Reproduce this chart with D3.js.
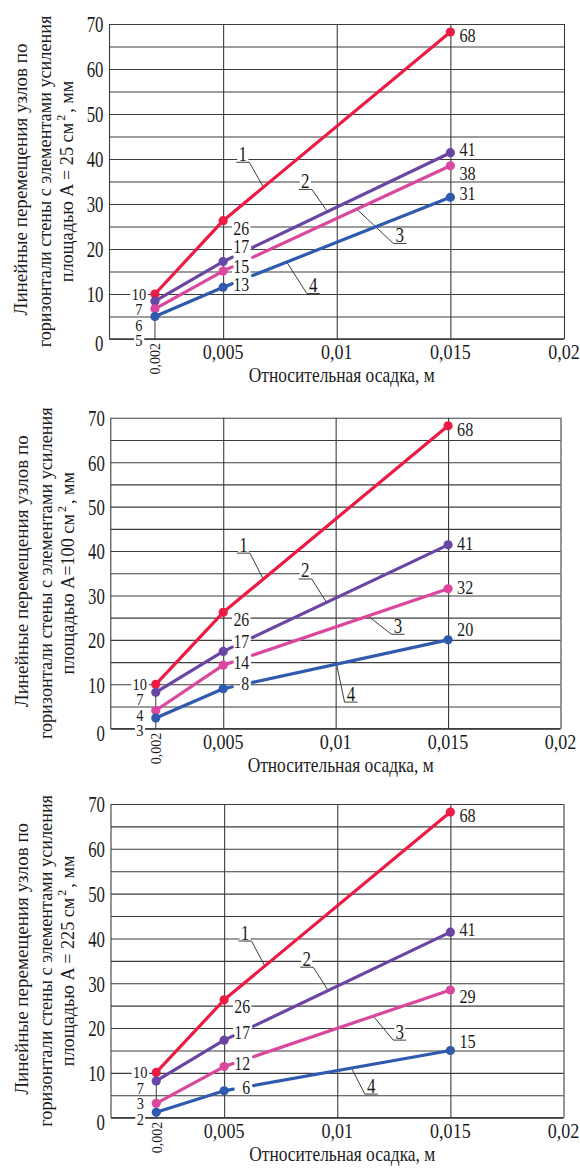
<!DOCTYPE html>
<html>
<head>
<meta charset="utf-8">
<script src="https://cdn.jsdelivr.net/npm/d3@7"></script>
<style>
  body { margin: 0; background: #fff; }
  svg { display: block; }
  svg text { font-family: "Liberation Serif", "DejaVu Serif", serif; fill: #1b1b1b; }
</style>
</head>
<body>
<svg id="chart" width="580" height="1169"></svg>
<script>
////////// DATA //////////
var xTicks = [0.005, 0.01, 0.015, 0.02],
    xTickLabels = ["0,005", "0,01", "0,015", "0,02"];
var xPoints = [0.002, 0.005, 0.015],
    firstXLabel = "0,002";
var yTicks = [0, 10, 20, 30, 40, 50, 60, 70];
var seriesNames = ["1", "2", "3", "4"];
var areaLabels = ["A = 25", "A=100", "A = 225"];

// values as plotted (rows = series 1..4, cols = xPoints)
var values25  = [[10, 26.3, 68.2], [8.4, 17.2, 41.4], [6.7, 15.1, 38.5], [5.0, 11.5, 31.5]];
var values100 = [[10, 26.2, 68.2], [8.2, 17.4, 41.4], [4.1, 14.3, 31.5], [2.4, 9.0, 20.0]];
var values225 = [[10.1, 26.3, 68.2], [8.2, 17.3, 41.4], [3.2, 11.4, 28.5], [1.2, 6.0, 15.0]];

// printed labels next to the points
var labels25  = [["10", "26", "68"], ["7", "17", "41"], ["6", "15", "38"], ["5", "13", "31"]];
var labels100 = [["10", "26", "68"], ["7", "17", "41"], ["4", "14", "32"], ["3", "8", "20"]];
var labels225 = [["10", "26", "68"], ["7", "17", "41"], ["3", "12", "29"], ["2", "6", "15"]];

var titleLine1 = "Линейные перемещения узлов по",
    titleLine2 = "горизонтали стены с элементами усиления",
    titleLine3 = "площадью ",
    unitText = " см",
    xTitle = "Относительная осадка, м";

////////// STYLE / LAYOUT //////////
var colors = ["#ec1b44", "#6a46a4", "#da479e", "#2f5aae"],
    gridColor = "#3c3c3c";

var gapFrom = 0.0054, gapTo = 0.0063;   // break in lines 2-4 where the middle label sits

var panels = [
  { left: 109.5, right: 564, top: 24, bottom: 339,
    values: values25, labels: labels25,
    midDy: [7.6, -15, -4.3, -2.3], endDy: [4, -3, 8, -4],
    tags: [{ at: 0.00677, dx: -14, dy: -25, side: "r" }, { at: 0.00959, dx: -15.6, dy: -22.2, side: "r" },
           { at: 0.01088, dx: 36.6, dy: 34.3, side: "l" }, { at: 0.0078, dx: 20, dy: 31.4, side: "l" }] },
  { left: 110.8, right: 560.5, top: 417.8, bottom: 728.7,
    values: values100, labels: labels100,
    midDy: [7.3, -10, -2.2, -5], endDy: [4, -1, -1, -10],
    tags: [{ at: 0.00678, dx: -13.3, dy: -26, side: "r" }, { at: 0.0096, dx: -15, dy: -23.4, side: "r" },
           { at: 0.01144, dx: 23.4, dy: 18.3, side: "l" }, { at: 0.01004, dx: 8, dy: 38, side: "l" }] },
  { left: 111, right: 563.5, top: 804, bottom: 1117.7,
    values: values225, labels: labels225,
    midDy: [6.7, -7, -3.3, -3.5], endDy: [4, -2, 7, -9],
    tags: [{ at: 0.0068, dx: -13.3, dy: -25, side: "r" }, { at: 0.0096, dx: -15, dy: -23.3, side: "r" },
           { at: 0.01159, dx: 20, dy: 24, side: "l" }, { at: 0.01063, dx: 13.3, dy: 26, side: "l" }] }
];

var svg = d3.select("#chart");
svg.append("rect").attr("width", 580).attr("height", 1169).attr("fill", "#fff");

// text in a squeezed group, optional white box under it
function putText(g, x, y, txt, o) {
  var t = g.append("g")
      .attr("transform", "translate(" + x + "," + y + ") scale(" + (o.sx || 1) + ",1)");
  var el = t.append("text")
      .attr("text-anchor", o.anchor || "start")
      .attr("dy", o.dy == null ? "0.35em" : o.dy)
      .style("font-size", o.size + "px")
      .text(txt);
  if (o.bg) {
    var b = el.node().getBBox();
    t.insert("rect", "text")
      .attr("x", b.x - 1.5).attr("y", b.y + b.height * 0.2)
      .attr("width", b.width + 3).attr("height", b.height * 0.62)
      .attr("fill", "#fff");
  }
  return t;
}

panels.forEach(function(p, pi) {
  var x = d3.scaleLinear().domain([0, 0.02]).range([p.left, p.right]),
      y = d3.scaleLinear().domain([0, 70]).range([p.bottom, p.top]);
  var w = p.right - p.left, h = p.bottom - p.top;

  var gridG = svg.append("g"),
      labelG = svg.append("g"),
      dataG = svg.append("g"),
      textG = svg.append("g");

  //
  // grid
  //
  gridG.append("g")
      .attr("transform", "translate(" + p.left + ",0)")
      .call(d3.axisLeft(y).ticks(14).tickSize(-w).tickFormat(""))
      .call(function(a) { a.select(".domain").remove(); });
  gridG.append("g")
      .attr("transform", "translate(0," + p.bottom + ")")
      .call(d3.axisBottom(x).tickValues(xTicks).tickSize(-h).tickFormat(""))
      .call(function(a) { a.select(".domain").remove(); });
  gridG.selectAll("line").attr("stroke", gridColor).attr("stroke-width", 1.1);
  gridG.append("line")
      .attr("x1", x(0)).attr("x2", x(0)).attr("y1", y(0)).attr("y2", y(70))
      .attr("stroke", gridColor).attr("stroke-width", 1.1);
  gridG.append("line")
      .attr("x1", x(0)).attr("x2", x(0.02)).attr("y1", y(0)).attr("y2", y(0))
      .attr("stroke", gridColor).attr("stroke-width", 1.3);
  // drop line at the first point
  gridG.append("line")
      .attr("x1", x(xPoints[0])).attr("x2", x(xPoints[0]))
      .attr("y1", y(p.values[0][0])).attr("y2", y(0))
      .attr("stroke", gridColor).attr("stroke-width", 1);

  //
  // axis texts
  //
  yTicks.forEach(function(v) {
    putText(textG, p.left - 6, y(v) + (v === 0 ? 4 : 0), String(v), { size: 24, sx: 0.7, anchor: "end" });
  });
  xTicks.forEach(function(v, i) {
    putText(textG, x(v), p.bottom + 20, xTickLabels[i], { size: 21, sx: 0.86, anchor: "middle", dy: 0 });
  });
  textG.append("text")
      .attr("transform", "translate(" + (x(xPoints[0]) + 5.5) + "," + (p.bottom + 4) + ") rotate(-90)")
      .attr("text-anchor", "end")
      .style("font-size", "14px")
      .text(firstXLabel);

  textG.append("text")
      .attr("x", (p.left + p.right) / 2 + 5).attr("y", p.bottom + 43)
      .attr("text-anchor", "middle").style("font-size", "21px")
      .attr("textLength", 186).attr("lengthAdjust", "spacingAndGlyphs")
      .text(xTitle);

  // y title, three rotated lines; font sized so the long line fits by itself
  var cy = (p.top + p.bottom) / 2 - 2;
  var yt = textG.append("g").attr("transform", "rotate(-90)");
  var l2 = yt.append("text").attr("x", -cy - 2).attr("y", p.left - 59)
      .attr("text-anchor", "middle").style("font-size", "20px")
      .text(titleLine2);
  var fs = Math.min(20, 20 * 332 / l2.node().getComputedTextLength());
  l2.style("font-size", fs + "px");
  var l1 = yt.append("text").attr("x", -cy).attr("y", p.left - 83)
      .attr("text-anchor", "middle").style("font-size", fs + "px").text(titleLine1);
  if (l1.node().getComputedTextLength() < 272) {
    l1.attr("textLength", 272).attr("lengthAdjust", "spacingAndGlyphs");
  }
  var l3 = yt.append("text").attr("x", -cy - 2).attr("y", p.left - 37)
      .attr("text-anchor", "middle").style("font-size", fs + "px");
  l3.append("tspan").text(titleLine3 + areaLabels[pi] + unitText);
  l3.append("tspan").attr("dx", 2).attr("dy", -8).style("font-size", "12px").text("2");
  l3.append("tspan").attr("dx", 2).attr("dy", 8).text(", мм");

  //
  // series
  //
  p.values.forEach(function(vals, si) {
    var pts = xPoints.map(function(xv, k) { return [x(xv), y(vals[k])]; });
    var col = colors[si];
    function lineAt(xv) {   // y on segment 0.005 -> 0.015
      var t = (xv - xPoints[1]) / (xPoints[2] - xPoints[1]);
      return y(vals[1] + t * (vals[2] - vals[1]));
    }
    var segs = [[pts[0], pts[1]]];
    if (si === 0) {
      segs.push([pts[1], pts[2]]);
    } else {
      segs.push([pts[1], [x(gapFrom), lineAt(gapFrom)]]);
      segs.push([[x(gapTo), lineAt(gapTo)], pts[2]]);
    }
    segs.forEach(function(s) {
      dataG.append("line")
          .attr("x1", s[0][0]).attr("y1", s[0][1]).attr("x2", s[1][0]).attr("y2", s[1][1])
          .attr("stroke", col).attr("stroke-width", 3.2).attr("stroke-linecap", "round");
    });
    dataG.selectAll(null).data(pts).enter().append("circle")
        .attr("cx", function(d) { return d[0]; })
        .attr("cy", function(d) { return d[1]; })
        .attr("r", 4.6).attr("fill", col);

    // labels at the middle and last point
    putText(labelG, pts[1][0] + 26, pts[1][1] + p.midDy[si], p.labels[si][1],
            { size: 18, sx: 0.88, anchor: "end", bg: true });
    putText(labelG, pts[2][0] + 9, pts[2][1] + p.endDy[si], p.labels[si][2],
            { size: 18, sx: 0.9, anchor: "start", bg: true });

    // curve number with underline and leader
    var tg = p.tags[si];
    var ax = x(tg.at), ay = lineAt(tg.at);
    var ex = ax + tg.dx, ey = ay + tg.dy;
    var u0 = tg.side === "r" ? ex - 13 : ex, u1 = u0 + 13;
    putText(labelG, (u0 + u1) / 2, ey - 1.5, seriesNames[si], { size: 20, sx: 0.85, anchor: "middle", dy: 0, bg: true });
    labelG.append("line").attr("x1", u0).attr("x2", u1).attr("y1", ey).attr("y2", ey)
        .attr("stroke", gridColor).attr("stroke-width", 1);
    labelG.append("line").attr("x1", ex).attr("y1", ey).attr("x2", ax).attr("y2", ay)
        .attr("stroke", gridColor).attr("stroke-width", 1);
  });

  // stacked labels at the first point
  var prev = -Infinity;
  p.values.forEach(function(vals, si) {
    var ly = Math.max(y(vals[0]), prev + 15.5);
    prev = ly;
    putText(labelG, x(xPoints[0]) - 16, ly, p.labels[si][0], { size: 16, sx: 0.9, anchor: "middle", bg: true });
  });
});
</script>
</body>
</html>
